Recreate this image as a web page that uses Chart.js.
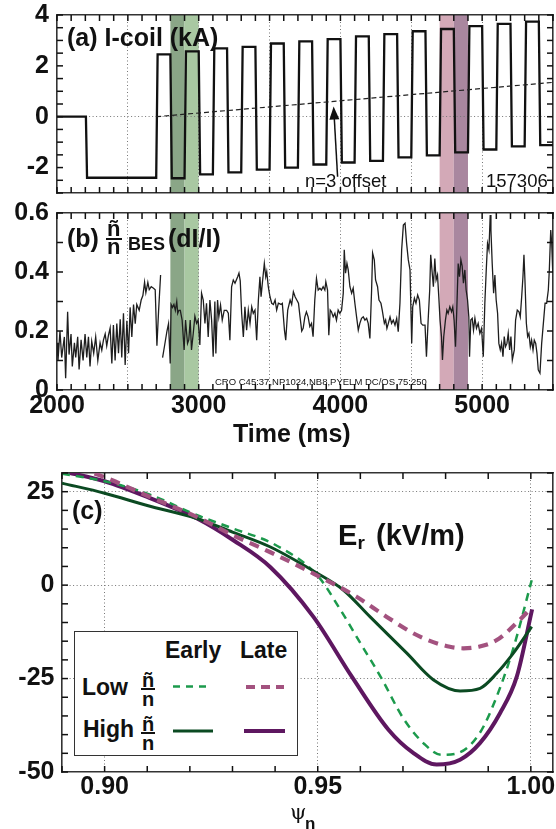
<!DOCTYPE html>
<html>
<head>
<meta charset="utf-8">
<script src="https://cdn.jsdelivr.net/npm/chart.js@4.4.1/dist/chart.umd.min.js"></script>
<style>
 body { margin: 0; background: #fff; }
 #page { position: relative; width: 556px; height: 829px; overflow: hidden; font-family: "Liberation Sans", Arial, sans-serif; color: #111; }
 canvas { position: absolute; left: 0; }
 .t { position: absolute; white-space: nowrap; line-height: 1; }
 .b { font-weight: bold; }
 .bar { position: absolute; background: #111; }
 #legendBox { position: absolute; left: 74px; top: 631px; width: 222px; height: 123px; border: 1.5px solid #333; background: #fff; }
</style>
</head>
<body>
<div id="page">
 <canvas id="coilChart" width="556" height="200" style="top:0px"></canvas>
 <canvas id="besChart" width="556" height="250" style="top:200px"></canvas>
 <canvas id="erChart" width="556" height="369" style="top:460px"></canvas>

 <div class="t b" style="left:67px;top:25px;font-size:25px">(a) I-coil (kA)</div>
 <div class="t" style="left:305px;top:172px;font-size:18.5px">n=3 offset</div>
 <div class="t" style="left:486px;top:172px;font-size:18.5px">157306</div>

 <div class="t b" style="left:67px;top:226px;font-size:25px">(b)</div>
 <div class="t b" style="left:107px;top:218px;font-size:22px">ñ</div>
 <div class="bar" style="left:106px;top:238px;width:16px;height:2.2px"></div>
 <div class="t b" style="left:107px;top:236px;font-size:22px">n</div>
 <div class="t b" style="left:128px;top:235px;font-size:18px">BES</div>
 <div class="t b" style="left:168px;top:226px;font-size:25px">(dI/I)</div>
 <div class="t" style="left:215px;top:377px;font-size:9.5px">CRO C45:37,NP1024,NB8,PYELM DC/OS 75:250</div>
 <div class="t b" style="left:233px;top:421px;font-size:25px">Time (ms)</div>

 <div class="t b" style="left:72px;top:498px;font-size:25px">(c)</div>
 <div class="t b" style="left:338px;top:520.5px;font-size:29px">E</div>
 <div class="t b" style="left:357.5px;top:533px;font-size:19px">r</div>
 <div class="t b" style="left:376px;top:520.5px;font-size:29px">(kV/m)</div>

 <div id="legendBox"></div>
 <div class="t b" style="left:165px;top:638.5px;font-size:23px">Early</div>
 <div class="t b" style="left:240px;top:638.5px;font-size:23px">Late</div>
 <div class="t b" style="left:82px;top:675.5px;font-size:23px">Low</div>
 <div class="t b" style="left:142px;top:670px;font-size:20px">ñ</div>
 <div class="bar" style="left:141px;top:687.5px;width:14px;height:2px"></div>
 <div class="t b" style="left:142px;top:689px;font-size:20px">n</div>
 <div class="t b" style="left:83px;top:717.5px;font-size:23px">High</div>
 <div class="t b" style="left:142px;top:714px;font-size:20px">ñ</div>
 <div class="bar" style="left:141px;top:732px;width:14px;height:2px"></div>
 <div class="t b" style="left:142px;top:733px;font-size:20px">n</div>
 <svg width="556" height="829" style="position:absolute;left:0;top:0;pointer-events:none">
  <line x1="173" y1="686.5" x2="212" y2="686.5" stroke="#1c9a4c" stroke-width="2.5" stroke-dasharray="7 6"/>
  <line x1="246" y1="687" x2="284" y2="687" stroke="#a3527f" stroke-width="4" stroke-dasharray="9 6"/>
  <line x1="173" y1="731" x2="213" y2="731" stroke="#0b4a22" stroke-width="3"/>
  <line x1="244" y1="731" x2="285" y2="731" stroke="#5e1760" stroke-width="4"/>
 </svg>

 <div class="t" style="left:290px;top:802px;font-size:21px;font-family:'DejaVu Serif',serif">ψ</div>
 <div class="t b" style="left:305px;top:815px;font-size:17px">n</div>
</div>

<script>
// ---- panel (a) I-coil plateaus (ms, kA) ----
var coilStart = [2000, 2212, 2710, 2810, 2910, 3010, 3110, 3210, 3310, 3410, 3510, 3610, 3710, 3810, 3910,
 4010, 4110, 4210, 4310, 4410, 4510, 4610, 4710, 4810, 4910, 5010, 5110, 5210, 5310, 5410];
var coilEnd = [2204, 2700, 2800, 2900, 3000, 3100, 3200, 3300, 3400, 3500, 3600, 3700, 3800, 3900, 4000,
 4100, 4200, 4300, 4400, 4500, 4600, 4700, 4800, 4900, 5000, 5100, 5200, 5300, 5400, 5500];
var coilLevel = [0, -2.40, 2.45, -2.42, 2.57, -2.27, 2.69, -2.19, 2.75, -2.08, 2.88, -2.00, 2.96, -1.88, 3.05,
 -1.80, 3.16, -1.74, 3.25, -1.60, 3.36, -1.52, 3.45, -1.40, 3.56, -1.29, 3.65, -1.17, 3.74, -1.12];
var offsetTime = [2700, 5500];
var offsetLevel = [0, 1.35];
var arrowFrom = [3980, -2.36];
var arrowTo = [3952, 0.40];

// ---- panel (b) BES fluctuation amplitude ----
var besTime = [2000, 2007, 2021, 2033, 2052, 2061, 2075, 2085, 2099, 2108, 2123, 2132, 2146, 2156, 2170, 2184,
 2198, 2210, 2222, 2233, 2245, 2259, 2273, 2288, 2304, 2316, 2328, 2340, 2351, 2363, 2375, 2387, 2398, 2410,
 2422, 2434, 2446, 2457, 2469, 2481, 2493, 2505, 2516, 2528, 2540, 2552, 2563, 2580, 2594, 2606, 2618, 2627,
 2641, 2651, 2665, 2681, 2693, 2705, 2717, 2731, 2738, 2745, 2759, 2776, 2787, 2799, 2805, 2815, 2825, 2835,
 2845, 2852, 2860, 2870, 2883, 2897, 2907, 2921, 2930, 2940, 2949, 2961, 2973, 2985, 2996, 3008, 3020, 3032,
 3044, 3055, 3067, 3079, 3091, 3102, 3114, 3121, 3133, 3142, 3154, 3166, 3180, 3197, 3209, 3220, 3232, 3244,
 3256, 3275, 3284, 3293, 3303, 3315, 3326, 3338, 3350, 3362, 3374, 3385, 3397, 3409, 3421, 3432, 3440, 3449,
 3463, 3473, 3480, 3491, 3503, 3515, 3527, 3539, 3550, 3562, 3581, 3590, 3605, 3614, 3628, 3645, 3656, 3668,
 3680, 3692, 3704, 3715, 3727, 3737, 3749, 3760, 3772, 3784, 3796, 3807, 3819, 3831, 3843, 3855, 3866, 3878,
 3890, 3897, 3909, 3918, 3928, 3937, 3949, 3961, 3972, 3984, 3996, 4008, 4020, 4027, 4036, 4046, 4055, 4067,
 4079, 4090, 4102, 4114, 4126, 4137, 4149, 4161, 4173, 4185, 4196, 4208, 4220, 4227, 4239, 4248, 4262, 4272,
 4286, 4295, 4310, 4319, 4328, 4338, 4350, 4361, 4373, 4385, 4397, 4408, 4420, 4432, 4444, 4456, 4467, 4479,
 4491, 4503, 4510, 4522, 4533, 4545, 4557, 4569, 4581, 4597, 4607, 4619, 4630, 4637, 4647, 4656, 4666, 4675,
 4685, 4694, 4703, 4713, 4720, 4729, 4741, 4751, 4760, 4772, 4784, 4793, 4802, 4812, 4821, 4831, 4840, 4850,
 4859, 4868, 4878, 4887, 4897, 4906, 4911, 4920, 4930, 4939, 4949, 4960, 4972, 4984, 4996, 5008, 5019, 5029,
 5038, 5048, 5057, 5062, 5071, 5081, 5090, 5099, 5109, 5118, 5128, 5137, 5147, 5156, 5165, 5175, 5184, 5194,
 5203, 5213, 5227, 5236, 5248, 5260, 5269, 5279, 5288, 5295, 5302, 5312, 5321, 5330, 5340, 5349, 5359, 5368,
 5378, 5387, 5396, 5408, 5420, 5432, 5444, 5455, 5467, 5474, 5484, 5491, 5498];
var besValue = [0.16, 0.10, 0.20, 0.11, 0.18, 0.04, 0.265, 0.12, 0.19, 0.08, 0.16, 0.11, 0.18, 0.07, 0.17, 0.10,
 0.19, 0.11, 0.18, 0.08, 0.165, 0.125, 0.18, 0.10, 0.16, 0.135, 0.17, 0.19, 0.15, 0.185, 0.21, 0.09, 0.22, 0.10,
 0.225, 0.125, 0.24, 0.11, 0.26, 0.085, 0.235, 0.125, 0.28, 0.18, 0.29, 0.225, 0.29, 0.27, 0.305, 0.32, 0.365, 0.33,
 0.365, 0.34, 0.35, 0.345, 0.34, 0.15, 0.27, 0.39, null, 0.11, 0.15, 0.20, 0.225, 0.09, 0.29, 0.28, 0.29, 0.27,
 0.30, 0.26, 0.27, 0.27, 0.237, 0.136, 0.237, 0.158, 0.17, 0.237, 0.136, 0.19, 0.25, 0.226, 0.237, 0.153, 0.328, 0.305,
 0.226, 0.294, 0.18, 0.305, 0.237, 0.113, 0.30, 0.124, 0.305, 0.248, 0.288, 0.237, 0.27, 0.27, 0.26, 0.169, 0.35, 0.373,
 0.362, 0.384, 0.396, 0.37, 0.26, 0.18, 0.282, 0.203, 0.271, 0.226, 0.282, 0.26, 0.271, 0.169, 0.305, 0.384, 0.316, 0.362,
 0.429, 0.384, 0.401, 0.35, 0.316, 0.294, 0.29, 0.305, 0.271, 0.294, 0.29, 0.294, 0.203, 0.169, 0.271, 0.305, 0.29, 0.333,
 0.316, 0.305, 0.294, 0.248, 0.20, 0.209, 0.248, 0.265, 0.248, 0.215, 0.226, 0.181, 0.305, 0.378, 0.339, 0.345, 0.339, 0.35,
 0.339, 0.367, 0.339, 0.186, 0.271, 0.265, 0.248, 0.26, 0.237, 0.271, 0.26, 0.27, 0.328, 0.475, 0.396, 0.429, 0.407, 0.35,
 0.328, 0.345, 0.294, 0.248, 0.203, 0.226, 0.243, 0.248, 0.237, 0.243, 0.226, 0.175, 0.339, 0.464, 0.441, 0.373, 0.35, 0.305,
 0.294, 0.271, 0.226, 0.237, 0.209, 0.226, 0.248, 0.226, 0.237, 0.22, 0.243, 0.198, 0.294, 0.475, 0.559, 0.565, 0.497, 0.441,
 0.407, 0.158, 0.282, 0.311, 0.294, 0.322, 0.305, 0.226, 0.22, 0.22, 0.113, 0.237, 0.339, 0.458, 0.401, 0.35, 0.446, 0.373,
 0.39, 0.316, 0.237, 0.181, 0.102, 0.181, 0.237, 0.271, 0.26, 0.282, 0.265, 0.282, 0.237, 0.147, 0.271, 0.429, 0.384, 0.441,
 0.42, 0.362, 0.407, 0.339, 0.305, 0.248, 0.113, 0.237, 0.243, 0.203, 0.243, 0.209, 0.226, 0.192, 0.209, 0.113, 0.294, 0.407,
 0.497, 0.475, 0.593, 0.542, 0.429, 0.328, 0.39, 0.305, 0.26, 0.158, 0.136, 0.158, 0.113, 0.181, 0.147, 0.158, 0.192, 0.136,
 0.181, 0.102, 0.136, 0.237, 0.271, 0.265, 0.248, 0.316, 0.384, 0.458, 0.373, 0.226, 0.181, 0.192, 0.147, 0.169, 0.136, 0.169,
 0.158, 0.124, 0.068, 0.057, 0.158, 0.226, 0.294, 0.294, 0.339, 0.407, 0.542, 0.497, 0.401];

// shaded time windows: early (green) and late (purple)
var bandStart = [2800, 2900, 4700, 4800];
var bandEnd = [2900, 3000, 4800, 4900];
var bandColor = ["#8aa687", "#a9c8a2", "#d3a9b7", "#a9879f"];

// ---- panel (c) Er profiles ----
var lowEarlyPsi = [0.89, 0.90, 0.91, 0.9217, 0.93, 0.94, 0.95, 0.955, 0.96, 0.965, 0.97, 0.975, 0.979, 0.983, 0.988, 0.992, 0.996, 1.0002];
var lowEarlyEr = [29.8, 27.8, 24.5, 18.7, 15.2, 10.8, 2.5, -6.0, -15.5, -25.0, -35.5, -42.5, -45.4, -44.9, -39.6, -29.8, -16.5, 1.3];
var lowLatePsi = [0.89, 0.899, 0.91, 0.9217, 0.9302, 0.9389, 0.949, 0.9591, 0.9662, 0.974, 0.981, 0.9842, 0.988, 0.992, 0.9974, 1.0002];
var lowLateEr = [32.5, 29.3, 23.9, 18.2, 13.3, 8.8, 3.1, -3.1, -8.5, -13.8, -16.5, -16.9, -16.4, -14.7, -9.3, -6.0];
var highEarlyPsi = [0.89, 0.90, 0.91, 0.9217, 0.93, 0.9389, 0.95, 0.956, 0.9623, 0.9709, 0.9771, 0.9834, 0.9881, 0.992, 0.9959, 1.0002];
var highEarlyEr = [27.3, 24.6, 21.3, 17.8, 14.2, 10.2, 3.1, -1.3, -8.5, -18.2, -25.3, -28.3, -27.6, -23.6, -18.2, -11.1];
var highLatePsi = [0.89, 0.90, 0.91, 0.9217, 0.9302, 0.9389, 0.949, 0.958, 0.9666, 0.9724, 0.9779, 0.9834, 0.9881, 0.9928, 0.9967, 1.0003];
var highLateEr = [30.5, 27.8, 23.6, 17.8, 12.0, 4.8, -8.5, -24.5, -38.7, -44.9, -48.0, -46.7, -42.2, -34.2, -24.5, -6.5];

// tick labels
var coilTickLabels = [-2, 0, 2, 4];
var besTickLabels = [0, 0.2, 0.4, 0.6];
var timeTickLabels = [2000, 3000, 4000, 5000];
var timeGrid = [2500, 3000, 3500, 4000, 4500, 5000];
var psiTickLabels = [0.90, 0.95, 1.00];
var erTickLabels = [-50, -25, 0, 25];

var FONT = "'Liberation Sans', Arial, sans-serif";
var TICK_LEN = 6;

function xy(xs, ys) {
 return xs.map(function (v, i) {
  return { x: v, y: ys[i] };
 });
}

function range(a, b, div) {
 var out = [];
 for (var i = a; i <= b; i++) out.push(i / div);
 return out;
}

function makeAxis(o) {
 return {
  type: "linear",
  position: o.position,
  min: o.min,
  max: o.max,
  afterBuildTicks: function (scale) {
   scale.ticks = o.ticks.map(function (v) {
    return { value: v };
   });
  },
  afterFit: function (scale) {
   if (o.width !== undefined) scale.width = o.width;
   if (o.height !== undefined) scale.height = o.height;
   scale.paddingLeft = 0;
   scale.paddingRight = 0;
   scale.paddingTop = 0;
   scale.paddingBottom = 0;
  },
  grid: {
   drawOnChartArea: !!o.grid,
   drawTicks: false,
   color: function (c) {
    return o.grid && c.tick && o.grid.indexOf(c.tick.value) >= 0 ? "#777" : "rgba(0,0,0,0)";
   },
   lineWidth: 1,
  },
  border: { display: true, color: "#333", width: 1.6, dash: [1, 2.5] },
  ticks: {
   display: !!o.labels,
   autoSkip: false,
   maxRotation: 0,
   padding: o.pad || 0,
   color: "#111",
   font: { family: FONT, size: 25, weight: "bold", lineHeight: 1.2 },
   callback: function (v) {
    return o.labels && o.labels.indexOf(v) >= 0 ? o.fmt(v) : "";
   },
  },
 };
}

// short tick marks pointing into the plot, on all four sides
var innerTicksPlugin = {
 id: "innerTicks",
 afterDatasetsDraw: function (chart) {
  var ctx = chart.ctx, a = chart.chartArea;
  ctx.save();
  ctx.strokeStyle = "#111";
  ctx.lineWidth = 1.5;
  ctx.setLineDash([]);
  ["x", "x2", "y", "y2"].forEach(function (id) {
   var s = chart.scales[id];
   var pos = s.options.position;
   s.ticks.forEach(function (t) {
    var p = s.getPixelForValue(t.value);
    ctx.beginPath();
    if (pos === "bottom") {
     ctx.moveTo(p, a.bottom);
     ctx.lineTo(p, a.bottom - TICK_LEN);
    } else if (pos === "top") {
     ctx.moveTo(p, a.top);
     ctx.lineTo(p, a.top + TICK_LEN);
    } else if (pos === "left") {
     ctx.moveTo(a.left, p);
     ctx.lineTo(a.left + TICK_LEN, p);
    } else {
     ctx.moveTo(a.right, p);
     ctx.lineTo(a.right - TICK_LEN, p);
    }
    ctx.stroke();
   });
  });
  ctx.restore();
 },
};

var bandPlugin = {
 id: "bands",
 beforeDraw: function (chart) {
  var ctx = chart.ctx, a = chart.chartArea, x = chart.scales.x;
  ctx.save();
  for (var i = 0; i < bandStart.length; i++) {
   var x0 = x.getPixelForValue(bandStart[i]);
   var x1 = x.getPixelForValue(bandEnd[i]);
   ctx.fillStyle = bandColor[i];
   ctx.fillRect(x0, a.top, x1 - x0, a.bottom - a.top);
  }
  ctx.restore();
 },
};

var arrowPlugin = {
 id: "arrow",
 afterDatasetsDraw: function (chart) {
  var ctx = chart.ctx, x = chart.scales.x, y = chart.scales.y;
  var x0 = x.getPixelForValue(arrowFrom[0]), y0 = y.getPixelForValue(arrowFrom[1]);
  var x1 = x.getPixelForValue(arrowTo[0]), y1 = y.getPixelForValue(arrowTo[1]);
  var ang = Math.atan2(y1 - y0, x1 - x0), c = Math.cos(ang), s = Math.sin(ang);
  ctx.save();
  ctx.strokeStyle = "#111";
  ctx.fillStyle = "#111";
  ctx.lineWidth = 1.5;
  ctx.beginPath();
  ctx.moveTo(x0, y0);
  ctx.lineTo(x1 - 10 * c, y1 - 10 * s);
  ctx.stroke();
  ctx.beginPath();
  ctx.moveTo(x1, y1);
  ctx.lineTo(x1 - 13 * c + 5 * s, y1 - 13 * s - 5 * c);
  ctx.lineTo(x1 - 13 * c - 5 * s, y1 - 13 * s + 5 * c);
  ctx.closePath();
  ctx.fill();
  ctx.restore();
 },
};

var baseOptions = function (padTop, scales) {
 return {
  responsive: false,
  animation: false,
  devicePixelRatio: 1,
  layout: { padding: { left: 0, right: 3, top: padTop, bottom: 0 } },
  plugins: { legend: { display: false }, tooltip: { enabled: false } },
  elements: { point: { radius: 0 } },
  scales: scales,
 };
};

// ---- panel (a) ----
var coilPoints = [];
for (var i = 0; i < coilStart.length; i++) {
 coilPoints.push({ x: coilStart[i], y: coilLevel[i] });
 coilPoints.push({ x: coilEnd[i], y: coilLevel[i] });
}
var timeTicks = range(20, 55, 0.01);

new Chart(document.getElementById("coilChart"), {
 type: "line",
 data: {
  datasets: [
   { data: xy(offsetTime, offsetLevel), borderColor: "#222", borderWidth: 1.2, borderDash: [5, 3] },
   { data: coilPoints, borderColor: "#111", borderWidth: 2.3 },
  ],
 },
 options: baseOptions(15, {
  x: makeAxis({ position: "bottom", min: 2000, max: 5500, ticks: timeTicks, grid: timeGrid, height: 7 }),
  x2: makeAxis({ position: "top", min: 2000, max: 5500, ticks: timeTicks, height: 0 }),
  y: makeAxis({ position: "left", min: -3, max: 4, ticks: range(-6, 8, 2), grid: [0], width: 57,
   labels: coilTickLabels, pad: 8, fmt: function (v) { return String(v); } }),
  y2: makeAxis({ position: "right", min: -3, max: 4, ticks: range(-6, 8, 2), width: 0 }),
 }),
 plugins: [bandPlugin, arrowPlugin, innerTicksPlugin],
});

// ---- panel (b) ----
new Chart(document.getElementById("besChart"), {
 type: "line",
 data: {
  datasets: [{ data: xy(besTime, besValue), borderColor: "#1e1e1e", borderWidth: 1.3, spanGaps: false }],
 },
 options: baseOptions(13, {
  x: makeAxis({ position: "bottom", min: 2000, max: 5500, ticks: timeTicks, grid: timeGrid, height: 60,
   labels: timeTickLabels, pad: 1.5, fmt: function (v) { return String(v); } }),
  x2: makeAxis({ position: "top", min: 2000, max: 5500, ticks: timeTicks, height: 0 }),
  y: makeAxis({ position: "left", min: 0, max: 0.6, ticks: range(0, 6, 10), width: 57,
   labels: besTickLabels, pad: 8, fmt: function (v) { return v === 0 ? "0" : String(v); } }),
  y2: makeAxis({ position: "right", min: 0, max: 0.6, ticks: range(0, 6, 10), width: 0 }),
 }),
 plugins: [bandPlugin, innerTicksPlugin],
});

// ---- panel (c) ----
var psiTicks = range(89, 100, 100);
var erTicks = range(-10, 6, 0.2);
new Chart(document.getElementById("erChart"), {
 type: "line",
 data: {
  datasets: [
   { data: xy(lowLatePsi, lowLateEr), borderColor: "#a3527f", borderWidth: 4.2, borderDash: [10, 7], cubicInterpolationMode: "monotone" },
   { data: xy(highEarlyPsi, highEarlyEr), borderColor: "#0b4a22", borderWidth: 3, cubicInterpolationMode: "monotone" },
   { data: xy(lowEarlyPsi, lowEarlyEr), borderColor: "#1c9a4c", borderWidth: 2.5, borderDash: [8, 6], cubicInterpolationMode: "monotone" },
   { data: xy(highLatePsi, highLateEr), borderColor: "#5e1760", borderWidth: 4, cubicInterpolationMode: "monotone" },
  ],
 },
 options: baseOptions(13, {
  x: makeAxis({ position: "bottom", min: 0.89, max: 1.0052, ticks: psiTicks, grid: psiTickLabels, height: 57,
   labels: psiTickLabels, pad: 0.5, fmt: function (v) { return v.toFixed(2); } }),
  x2: makeAxis({ position: "top", min: 0.89, max: 1.0052, ticks: psiTicks, height: 0 }),
  y: makeAxis({ position: "left", min: -50, max: 30, ticks: erTicks, grid: [-25, 0, 25], width: 62,
   labels: erTickLabels, pad: 7.5, fmt: function (v) { return String(v); } }),
  y2: makeAxis({ position: "right", min: -50, max: 30, ticks: erTicks, width: 0 }),
 }),
 plugins: [innerTicksPlugin],
});
</script>
</body>
</html>
